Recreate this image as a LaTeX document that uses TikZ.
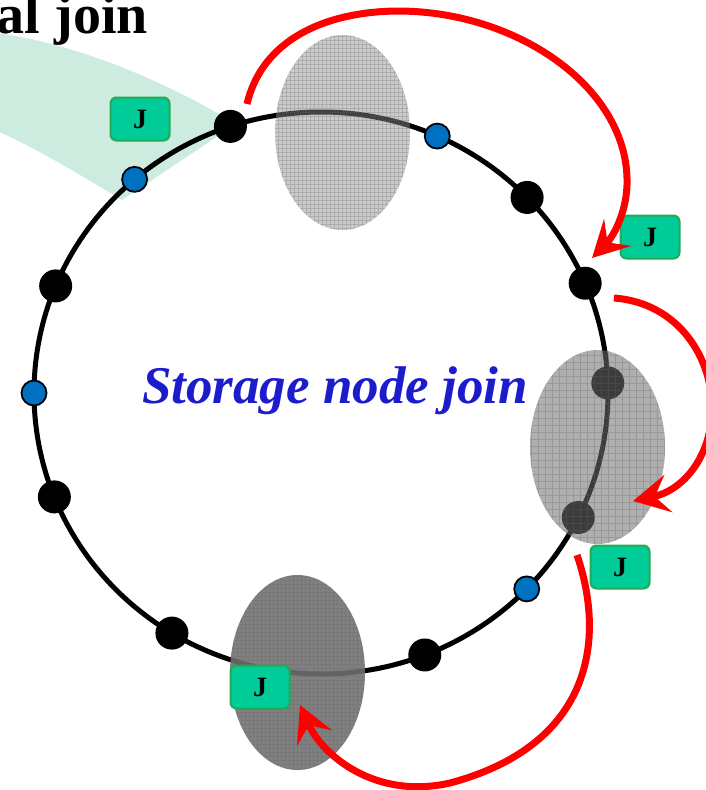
\documentclass[tikz,border=0pt]{standalone}
\usepackage{fontspec}
\setmainfont{Liberation Serif}
\usetikzlibrary{arrows.meta,calc}

\definecolor{bandgreen}{RGB}{205,235,222}
\definecolor{jfill}{RGB}{0,204,153}
\definecolor{jedge}{RGB}{34,170,85}
\definecolor{nodeblue}{RGB}{0,112,192}
\definecolor{labelblue}{RGB}{28,28,205}

\tikzset{
  ring/.style={line width=5pt, black},
  bigdot/.style={circle, fill=black, minimum size=33pt, inner sep=0pt},
  smalldot/.style={circle, fill=nodeblue, draw=black, line width=1.8pt, minimum size=25pt, inner sep=0pt},
  jbox/.style={rectangle, rounded corners=6pt, fill=jfill, draw=jedge, line width=2pt,
    minimum width=59pt, minimum height=43pt, inner sep=0pt,
    font=\fontsize{28}{28}\selectfont\bfseries},
  hop/.style={red, line width=7pt,
    -{Stealth[length=36pt, width=38pt, inset=14pt]}},
}

\newcommand{\gridzone}[6]{%
  % #1 centre, #2 x radius, #3 y radius, #4 gray level, #5 opacity, #6 grid step
  \fill[black!#4, fill opacity=#5] #1 ellipse [x radius=#2, y radius=#3];
  \begin{scope}
    \clip #1 ellipse [x radius=#2, y radius=#3];
    \draw[black!60, line width=0.5pt, opacity=0.3]
      \foreach \k in {0,...,60} {
        ($#1+(-80,-120+\k*#6)$) -- ++(160,0)
        ($#1+(-80+\k*#6,-120)$) -- ++(0,240)
      };
  \end{scope}}

\begin{document}
\begin{tikzpicture}[x=1pt, y=-1pt]
  \useasboundingbox (0,0) rectangle (706,790);
  \fill[white] (0,0) rectangle (706,790);

  % pale band leading into the ring
  \fill[bandgreen] (-5,33) .. controls (70,42) and (160,78) .. (236,124)
    -- (122,200) .. controls (80,175) and (40,150) .. (-5,130) -- cycle;

  % title, running off the top-left corner
  \node[anchor=base east, inner sep=0pt, font=\fontsize{56}{56}\selectfont\bfseries]
    (title) at (148,33) {al join};

  % the ring
  \draw[ring] (321,393) ellipse [x radius=287, y radius=281];

  % nodes on the ring
  \begin{scope}[shift={(321,393)}]
    \node[bigdot]   (n1) at (-108.4:287 and 281) {};
    \node[smalldot] (b1) at (-130.5:287 and 281) {};
    \node[bigdot]   (n2) at (-157.6:287 and 281) {};
    \node[smalldot] (b2) at (180:287 and 281) {};
    \node[bigdot]   (n3) at (158.3:287 and 281) {};
    \node[bigdot]   (n4) at (121.3:287 and 281) {};
    \node[bigdot]   (n5) at (68.8:287 and 281) {};
    \node[smalldot] (b3) at (44.2:287 and 281) {};
    \node[bigdot]   (n6) at (26.3:287 and 281) {};
    \node[bigdot]   (n7) at (-2.05:287 and 281) {};
    \node[bigdot]   (n8) at (-23.0:287 and 281) {};
    \node[bigdot]   (n9) at (-44.1:287 and 281) {};
    \node[smalldot] (b4) at (-66.1:287 and 281) {};
  \end{scope}

  % shaded key ranges
  \gridzone{(342.5,132.5)}{67.5}{97.5}{45}{0.45}{4}
  \gridzone{(597.5,447)}{67.5}{97}{57}{0.55}{7}
  \gridzone{(297.5,672.5)}{67.5}{97.5}{56}{0.88}{4}

  % centre label
  \node[anchor=base, inner sep=0pt, text=labelblue,
        font=\fontsize{53}{53}\selectfont\bfseries\itshape]
    (label) at (335,403) {Storage node join};

  % join markers
  \node[jbox] (j1) at (140,119) {J};
  \node[jbox] (j2) at (650,237) {J};
  \node[jbox] (j3) at (620,567) {J};
  \node[jbox] (j4) at (260,687) {J};

  % hand-off arrows
  \coordinate (s1) at (247,104);
  \coordinate (t1) at (592,258);
  \coordinate (s2) at (614,298);
  \coordinate (t2) at (633,501);
  \coordinate (s3) at (577,555);
  \coordinate (t3) at (300,705);

  \draw[hop] (s1) .. controls (262,40) and (325,11) .. (400,11)
    .. controls (520,12) and (630,90) .. (627,185)
    .. controls (626,215) and (612,238) .. (t1);
  \draw[hop] (s2) .. controls (680,303) and (713,360) .. (712,410)
    .. controls (711,455) and (685,490) .. (t2);
  \draw[hop] (s3) .. controls (606,640) and (592,745) .. (450,783)
    .. controls (375,800) and (322,755) .. (t3);
\end{tikzpicture}
\end{document}
